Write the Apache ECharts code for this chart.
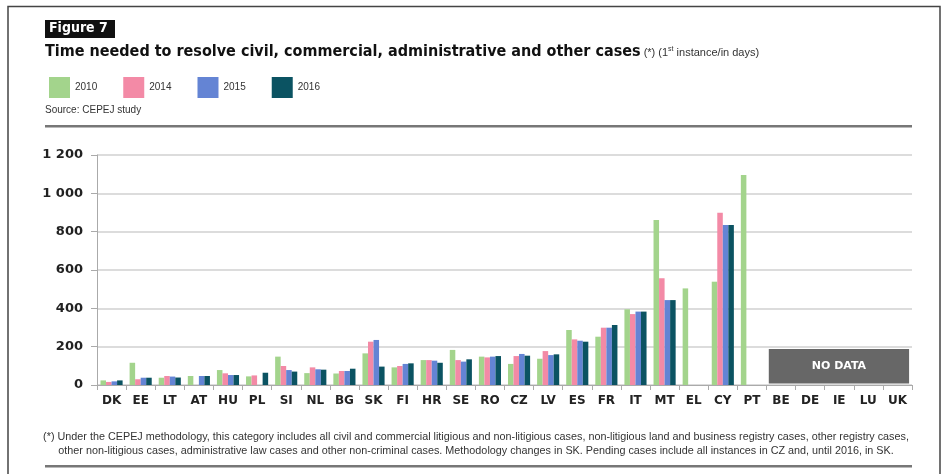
<!DOCTYPE html>
<html>
<head>
<meta charset="utf-8">
<script src="https://cdn.jsdelivr.net/npm/echarts@6/dist/echarts.min.js"></script>
<style>
html,body{margin:0;padding:0;background:#fff;}
#main{width:943px;height:474px;}
</style>
</head>
<body>
<div id="main"></div>
<script>
var categories = ['DK','EE','LT','AT','HU','PL','SI','NL','BG','SK','FI','HR','SE','RO','CZ','LV','ES','FR','IT','MT','EL','CY','PT','BE','DE','IE','LU','UK'];
var v2010 = [24,116,38,47,78,45,148,62,60,165,92,130,183,148,110,137,287,252,395,861,504,539,1096,null,null,null,null,null];
var v2014 = [16,30,47,null,61,50,99,92,73,226,99,130,130,144,151,177,238,299,370,557,null,899,null,null,null,null,null,null];
var v2015 = [19,38,44,47,52,null,78,82,73,235,110,127,122,148,162,156,231,299,383,443,null,835,null,null,null,null,null,null];
var v2016 = [24,38,39,47,52,64,70,80,85,96,113,116,134,151,153,160,226,313,383,443,null,835,null,null,null,null,null,null];
var yTicks = [0,200,400,600,800,1000,1200];
var noDataFrom = 'BE', noDataTo = 'UK', noDataTop = 188, noDataBottom = 8;

var colors = ['#a3d48c','#f38aa6','#6484d4','#0b5362'];
var chart = echarts.init(document.getElementById('main'));

function fmt(v){ var s = String(v); return s.length > 3 ? s.slice(0, s.length-3) + ' ' + s.slice(-3) : s; }

function bar(name, data, color){
  return {name:name, type:'bar', data:data, barGap:'0%', barCategoryGap:'24%',
    itemStyle:{color:color}, emphasis:{disabled:true}};
}

var footer1 = '(*) Under the CEPEJ methodology, this category includes all civil and commercial litigious and non-litigious cases, non-litigious land and business registry cases, other registry cases,';
var footer2 = 'other non-litigious cases, administrative law cases and other non-criminal cases. Methodology changes in SK. Pending cases include all instances in CZ and, until 2016, in SK.';

var option = {
  animation:false,
  color:colors,
  textStyle:{fontFamily:'DejaVu Sans'},
  legend:{
    left:44, top:72, itemWidth:21, itemHeight:21, itemGap:26, icon:'rect',
    selectedMode:false,
    textStyle:{fontSize:10, color:'#333', fontFamily:'Liberation Sans Narrow, Liberation Sans', padding:[13,0,0,0]},
    data:['2010','2014','2015','2016']
  },
  grid:{left:97, right:31, top:155, bottom:89, containLabel:false},
  xAxis:{
    type:'category', data:categories,
    axisLine:{lineStyle:{color:'#aaa'}},
    axisTick:{show:true, alignWithLabel:false, length:5, lineStyle:{color:'#aaa'}},
    axisLabel:{fontSize:12, fontWeight:'bold', color:'#222', margin:10, fontFamily:'DejaVu Sans', interval:0}
  },
  yAxis:{
    type:'value', min:yTicks[0], max:yTicks[yTicks.length-1], interval:200,
    axisLine:{show:true, lineStyle:{color:'#aaa'}},
    axisTick:{show:true, length:6, lineStyle:{color:'#aaa'}},
    splitLine:{lineStyle:{color:'#d0d0d0', width:1.5}},
    axisLabel:{fontSize:13, fontWeight:'bold', color:'#222', margin:14, formatter:fmt, fontFamily:'DejaVu Sans'}
  },
  series:[bar('2010',v2010,colors[0]), bar('2014',v2014,colors[1]), bar('2015',v2015,colors[2]), bar('2016',v2016,colors[3])]
};
chart.setOption(option);

var bw = chart.convertToPixel({xAxisIndex:0}, categories[1]) - chart.convertToPixel({xAxisIndex:0}, categories[0]);
var x1 = chart.convertToPixel({xAxisIndex:0}, noDataFrom) - bw*0.42;
var x2 = chart.convertToPixel({xAxisIndex:0}, noDataTo) + bw*0.4;
var y1 = chart.convertToPixel({yAxisIndex:0}, noDataTop);
var y2 = chart.convertToPixel({yAxisIndex:0}, noDataBottom);

chart.setOption({
  graphic:[
    {type:'polyline', shape:{points:[[8,480],[8,6.5],[940,6.5],[940,480]]}, style:{stroke:'#444', lineWidth:1.5, fill:null}},
    {type:'rect', shape:{x:45, y:20, width:70, height:18}, style:{fill:'#111'}},
    {type:'text', left:49, top:21, style:{text:'Figure 7', fill:'#fff', font:'bold 14px "DejaVu Sans Condensed", "DejaVu Sans"'}},
    {type:'text', left:45, top:44, style:{
      text:'{b|Time needed to resolve civil, commercial, administrative and other cases}{n| (*) (1}{s|st}{n| instance/in days)}',
      rich:{
        b:{font:'bold 16px "DejaVu Sans Condensed", "DejaVu Sans"', fill:'#111'},
        n:{font:'11px "Liberation Sans Narrow", "Liberation Sans"', fill:'#333', padding:[2,0,0,0]},
        s:{font:'7px "Liberation Sans Narrow", "Liberation Sans"', fill:'#333', padding:[0,0,6,0]}
      }}},
    {type:'text', left:45, top:105, style:{text:'Source: CEPEJ study', fill:'#333', font:'10px "Liberation Sans Narrow", "Liberation Sans"'}},
    {type:'rect', shape:{x:45, y:125, width:867, height:2.5}, style:{fill:'#777'}},
    {type:'rect', shape:{x:x1, y:y1, width:x2-x1, height:y2-y1}, style:{fill:'#676767'}},
    {type:'text', x:(x1+x2)/2, y:(y1+y2)/2, style:{text:'NO DATA', fill:'#fff', font:'bold 11px "DejaVu Sans"', align:'center', verticalAlign:'middle'}},
    {type:'text', x:476, y:437, style:{text:footer1, fill:'#333', font:'10.8px "Liberation Sans Narrow", "Liberation Sans"', align:'center', verticalAlign:'middle'}},
    {type:'text', x:476, y:451, style:{text:footer2, fill:'#333', font:'10.8px "Liberation Sans Narrow", "Liberation Sans"', align:'center', verticalAlign:'middle'}},
    {type:'rect', shape:{x:45, y:465, width:867, height:2.5}, style:{fill:'#777'}}
  ]
});
</script>
</body>
</html>
